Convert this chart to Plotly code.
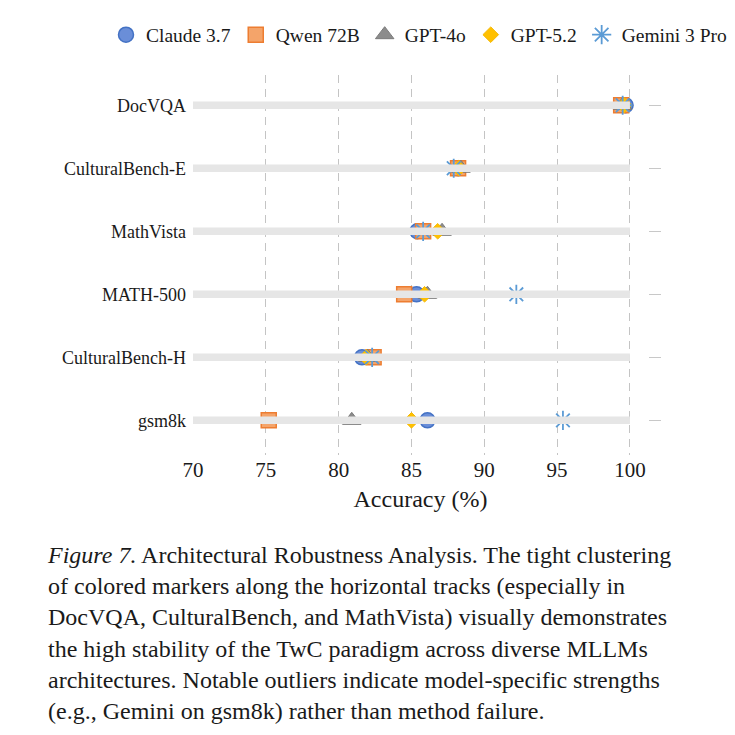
import plotly.graph_objects as go

# ---- data ----
categories = ["DocVQA", "CulturalBench-E", "MathVista", "MATH-500", "CulturalBench-H", "gsm8k"]
models = ["Claude 3.7", "Qwen 72B", "GPT-4o", "GPT-5.2", "Gemini 3 Pro"]
claude = [99.7, 88.2, 85.4, 85.35, 81.6, 86.1]
qwen = [99.4, 88.2, 85.8, 84.5, 82.4, 75.2]
gpt4o = [99.5, 88.4, 87.1, 86.1, 82.0, 80.9]
gpt52 = [99.6, 88.25, 86.8, 85.9, 81.9, 85.0]
gemini = [99.5, 87.9, 85.8, 92.2, 82.3, 95.4]
track_range = [70, 100]
x_ticks = [70, 75, 80, 85, 90, 95, 100]

series = [claude, qwen, gpt4o, gpt52, gemini]

# ---- styles ----
styles = [
    dict(symbol="circle", size=15, color="#6A8ED8", line=dict(color="#4472C4", width=1.5)),
    dict(symbol="square", size=15, color="#F4A46A", line=dict(color="#ED7D31", width=1.5)),
    dict(symbol="triangle-up", size=16, color="#8C8C8C", line=dict(color="#7A7A7A", width=1)),
    dict(symbol="diamond", size=12, color="#FFC000", line=dict(color="#F5B800", width=1)),
    dict(symbol="asterisk-open", size=16, color="#5B9BD5", line=dict(color="#5B9BD5", width=1.8)),
]

W, H = 735, 735
ML, MR, MT, MB = 193, 87, 75, 280
PW, PH = W - ML - MR, H - MT - MB

fig = go.Figure()

# background tracks
for cat in categories:
    fig.add_trace(go.Scatter(
        x=track_range, y=[cat, cat], mode="lines",
        line=dict(color="#E6E6E6", width=7.5),
        showlegend=False, hoverinfo="skip", yaxis="y2",
    ))

for name, vals, st in zip(models, series, styles):
    fig.add_trace(go.Scatter(
        x=vals, y=categories, mode="markers", name=name,
        marker=st,
    ))

font_family = "Times New Roman, Liberation Serif, DejaVu Serif, serif"
yrange = [5.55, -0.48]

fig.update_layout(
    width=W, height=H,
    margin=dict(l=ML, r=MR, t=MT, b=MB, pad=0, autoexpand=False),
    paper_bgcolor="white", plot_bgcolor="white",
    font=dict(family=font_family, size=18, color="#1a1a1a"),
    showlegend=True,
    legend=dict(
        orientation="h", x=(106 - ML) / PW, xanchor="left",
        y=1 + (MT - 35) / PH, yanchor="middle",
        font=dict(size=19.5, family=font_family), itemwidth=30,
        tracegroupgap=0, bgcolor="rgba(0,0,0,0)", borderwidth=0,
    ),
    xaxis=dict(
        range=[70, 101.24], tickvals=x_ticks, showline=False, zeroline=False,
        showgrid=True, gridcolor="#C4C4C4", gridwidth=1, griddash="8px,6px",
        ticks="", tickfont=dict(size=21),
        title=dict(text="Accuracy (%)", font=dict(size=24), standoff=9),
    ),
    yaxis=dict(
        type="category", categoryorder="array", categoryarray=categories,
        range=yrange, showgrid=False, zeroline=False, showline=False,
        ticks="", tickfont=dict(size=18), ticklabelstandoff=6,
    ),
    yaxis2=dict(
        type="category", categoryorder="array", categoryarray=categories,
        range=yrange, overlaying="y", side="right", showgrid=False,
        zeroline=False, showline=False, showticklabels=False,
        ticks="outside", ticklen=12, tickcolor="#C8C8C8", tickwidth=1,
    ),
)

caption = ("<i>Figure 7.</i> Architectural Robustness Analysis. The tight clustering<br>"
           "of colored markers along the horizontal tracks (especially in<br>"
           "DocVQA, CulturalBench, and MathVista) visually demonstrates<br>"
           "the high stability of the TwC paradigm across diverse MLLMs<br>"
           "architectures. Notable outliers indicate model-specific strengths<br>"
           "(e.g., Gemini on gsm8k) rather than method failure.")

fig.add_annotation(
    text=caption, xref="paper", yref="paper",
    x=(45 - ML) / PW, y=(H - MB - 540) / PH,
    xanchor="left", yanchor="top", align="left", showarrow=False,
    font=dict(family=font_family, size=24, color="#1a1a1a"),
)

fig.write_html("out.html")
